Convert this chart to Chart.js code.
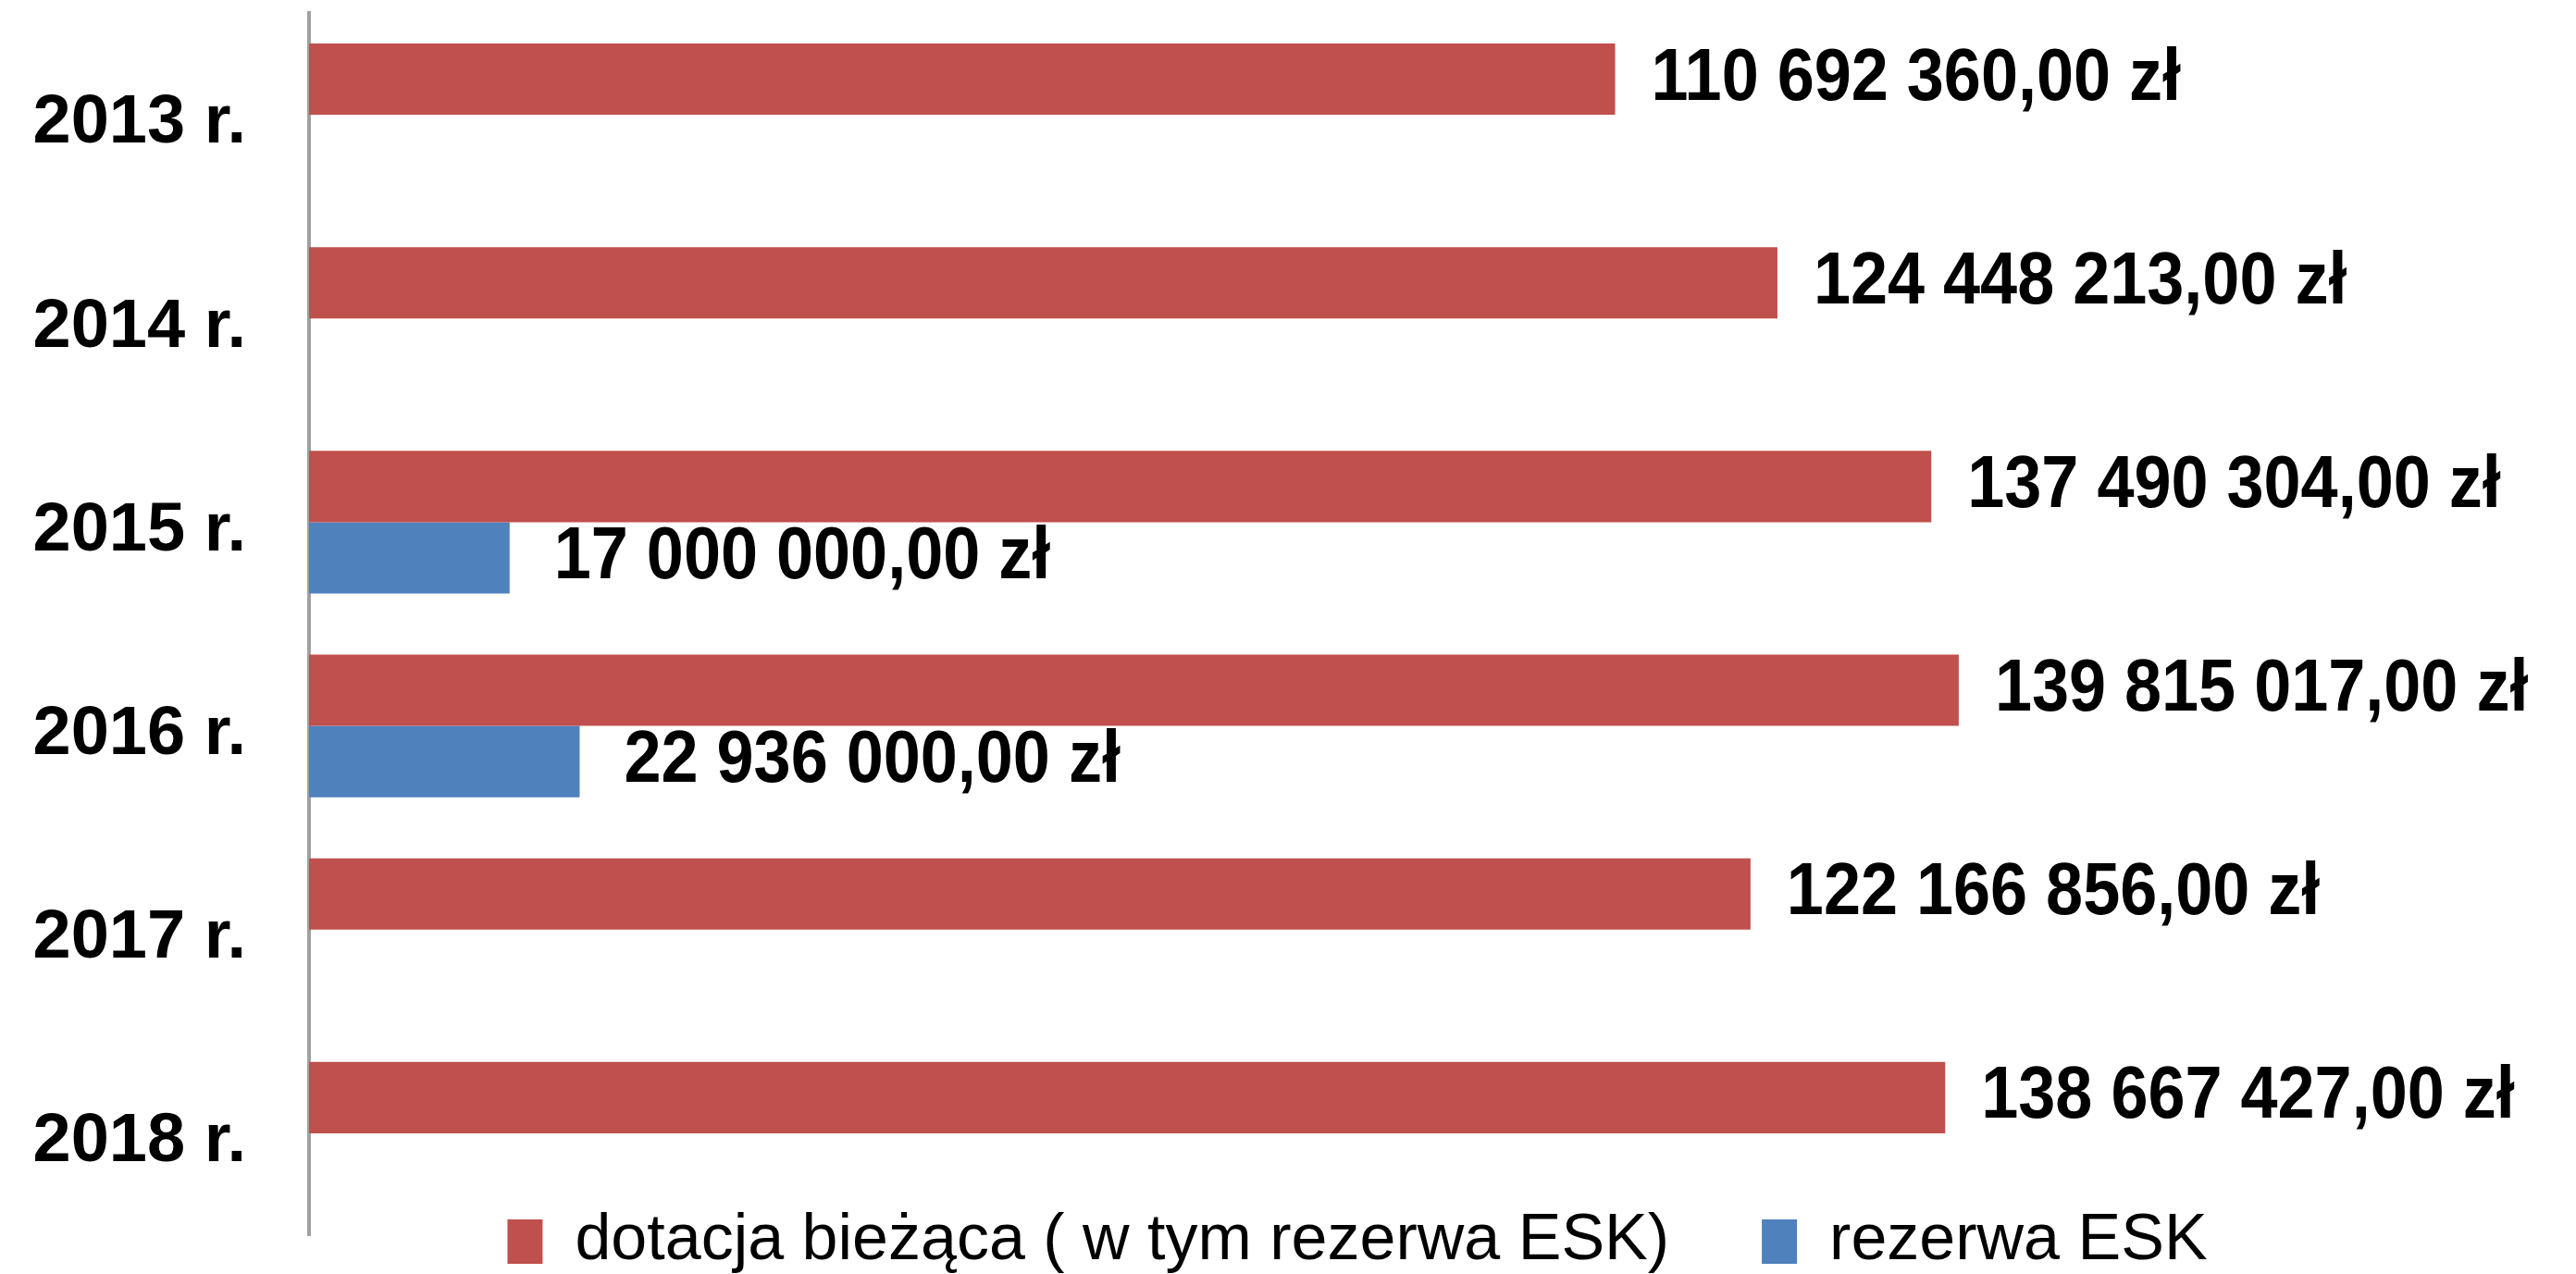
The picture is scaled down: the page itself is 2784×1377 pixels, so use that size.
<!DOCTYPE html>
<html>
<head>
<meta charset="utf-8">
<script src="https://cdn.jsdelivr.net/npm/chart.js@4/dist/chart.umd.min.js"></script>
<style>
  html, body { margin: 0; padding: 0; background: #fff; }
  #wrap { width: 2784px; height: 1377px; }
</style>
</head>
<body>
<div id="wrap"><canvas id="budgetChart"></canvas></div>
<script>
const years = ['2013 r.', '2014 r.', '2015 r.', '2016 r.', '2017 r.', '2018 r.'];
const dotacja = [110692360, 124448213, 137490304, 139815017, 122166856, 138667427];
const rezerwa = [null, null, 17000000, 22936000, null, null];
const seriesNames = ['dotacja bieżąca ( w tym rezerwa ESK)', 'rezerwa ESK'];

// 110692360 -> "110 692 360,00 zł"
function formatZl(v) {
  const parts = v.toFixed(2).split('.');
  const intPart = parts[0].replace(/\B(?=(\d{3})+(?!\d))/g, ' ');
  return intPart + ',' + parts[1] + ' zł';
}

// draw the value next to the end of each bar (condensed bold text)
const valueLabels = {
  id: 'valueLabels',
  afterDatasetsDraw(chart) {
    const ctx = chart.ctx;
    const gaps = [39, 48];
    chart.data.datasets.forEach((ds, i) => {
      chart.getDatasetMeta(i).data.forEach((bar, j) => {
        const v = ds.data[j];
        if (v == null) return;
        ctx.save();
        ctx.font = 'bold 80px "Liberation Sans", Arial, sans-serif';
        ctx.fillStyle = '#000';
        ctx.textBaseline = 'middle';
        ctx.textAlign = 'left';
        ctx.translate(bar.x + gaps[i], bar.y);
        ctx.scale(0.9, 1);
        ctx.fillText(formatZl(v), 0, 0);
        ctx.restore();
      });
    });
  }
};

// legend sits partly over the bottom of the plot, like in the original
const legendShift = {
  id: 'legendShift',
  afterLayout(chart) {
    const lg = chart.legend;
    const pad = lg.options.labels.padding;
    lg.top = 1307 - pad;
    lg.bottom = chart.height;
  }
};

const ctx = document.getElementById('budgetChart').getContext('2d');
new Chart(ctx, {
  type: 'bar',
  data: {
    labels: years,
    datasets: [
      {
        label: seriesNames[0],
        data: dotacja,
        backgroundColor: '#C0504D',
        borderWidth: 0,
      },
      {
        label: seriesNames[1],
        data: rezerwa,
        backgroundColor: '#4F81BD',
        borderWidth: 0,
      },
    ],
  },
  options: {
    indexAxis: 'y',
    responsive: true,
    maintainAspectRatio: false,
    animation: false,
    categoryPercentage: 0.7,
    barPercentage: 1.0,
    layout: {
      padding: { top: 14, right: 184, left: 0, bottom: 0 },
    },
    plugins: {
      tooltip: { enabled: false },
      legend: {
        position: 'bottom',
        fullSize: false,
        maxHeight: 42,
        labels: {
          boxWidth: 38,
          boxHeight: 48,
          padding: 100,
          color: '#000',
          font: { family: '"Liberation Sans", Arial, sans-serif', size: 70 },
        },
      },
    },
    scales: {
      x: {
        display: false,
        min: 0,
        max: 177700000,
      },
      y: {
        afterFit(scale) {
          scale.width = 334;
          scale.paddingTop = 0;
          scale.paddingBottom = 0;
        },
        grid: { display: false, drawTicks: false },
        border: { display: true, color: '#a0a0a0', width: 4 },
        ticks: {
          padding: 68,
          labelOffset: 10,
          color: '#000',
          font: { family: '"Liberation Sans", Arial, sans-serif', size: 74, weight: 'bold' },
        },
      },
    },
  },
  plugins: [valueLabels, legendShift],
});
</script>
</body>
</html>
